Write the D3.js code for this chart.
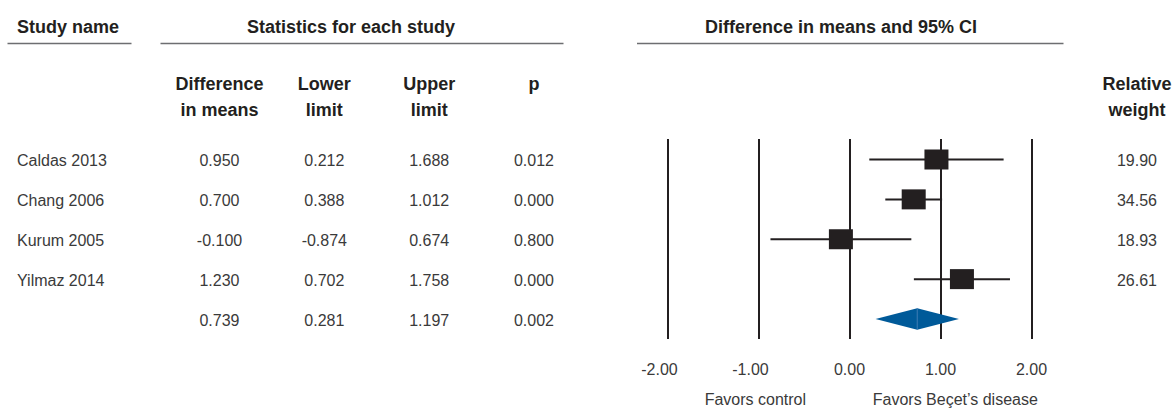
<!DOCTYPE html>
<html>
<head>
<meta charset="utf-8">
<script src="https://cdn.jsdelivr.net/npm/d3@7"></script>
<style>
  html, body { margin: 0; padding: 0; background: #fff; overflow: hidden; }
  svg { display: block; }
  .hdr { font-family: "Liberation Sans", Arial, sans-serif; font-weight: bold; font-size: 18px; fill: #231f20; }
  .cell { font-family: "Liberation Sans", Arial, sans-serif; font-size: 16px; fill: #3a3a3a; }
</style>
</head>
<body>
<div id="chart"></div>
<script>
const studies = ['Caldas 2013', 'Chang 2006', 'Kurum 2005', 'Yilmaz 2014'];
const diffMeans = [0.950, 0.700, -0.100, 1.230];
const lowerLimits = [0.212, 0.388, -0.874, 0.702];
const upperLimits = [1.688, 1.012, 0.674, 1.758];
const pValues = [0.012, 0.000, 0.800, 0.000];
const weights = [19.90, 34.56, 18.93, 26.61];

// pooled estimate (last row)
const pooledDiff = 0.739;
const pooledLower = 0.281;
const pooledUpper = 1.197;
const pooledP = 0.002;

const axisTicks = [-2, -1, 0, 1, 2];
const colHeaders = [['Difference', 'in means'], ['Lower', 'limit'], ['Upper', 'limit'], ['p']];

const width = 1173;
const height = 410;

const svg = d3.select('#chart')
  .append('svg')
  .attr('width', width)
  .attr('height', height)
  .attr('viewBox', `0 0 ${width} ${height}`);

const x = d3.scaleLinear().domain([-2, 2]).range([668, 1032]);

const rowKeys = studies.concat(['pooled']);
const y = d3.scalePoint().domain(rowKeys).range([159.5, 319]);

// table columns (centres)
const colX = d3.scalePoint().domain(d3.range(4)).range([219.5, 534]);

const rows = studies.map((s, i) => ({
  name: s,
  diff: diffMeans[i],
  lo: lowerLimits[i],
  hi: upperLimits[i],
  p: pValues[i],
  w: weights[i]
}));
const pooled = { name: 'pooled', diff: pooledDiff, lo: pooledLower, hi: pooledUpper, p: pooledP };

// ---- group headers with underlines
const groups = [
  { label: 'Study name', tx: 17, anchor: 'start', x1: 7.5, x2: 131.5 },
  { label: 'Statistics for each study', tx: 351, anchor: 'middle', x1: 160.5, x2: 563.5 },
  { label: 'Difference in means and 95% CI', tx: 841, anchor: 'middle', x1: 637, x2: 1063.5 }
];

svg.append('g')
  .selectAll('text')
  .data(groups)
  .join('text')
  .attr('class', 'hdr')
  .attr('x', d => d.tx)
  .attr('y', 33)
  .attr('text-anchor', d => d.anchor)
  .text(d => d.label);

svg.append('g')
  .attr('stroke', '#6d6e71')
  .attr('stroke-width', 1.4)
  .selectAll('line')
  .data(groups)
  .join('line')
  .attr('x1', d => d.x1)
  .attr('x2', d => d.x2)
  .attr('y1', 43.5)
  .attr('y2', 43.5);

// ---- column headers
const colHdr = svg.append('g')
  .selectAll('text')
  .data(colHeaders)
  .join('text')
  .attr('class', 'hdr')
  .attr('text-anchor', 'middle')
  .attr('x', (_d, i) => colX(i))
  .attr('y', 90);

colHdr.selectAll('tspan')
  .data(d => d)
  .join('tspan')
  .attr('x', function () { return d3.select(this.parentNode).attr('x'); })
  .attr('dy', (_d, i) => i === 0 ? 0 : 26)
  .text(d => d);

svg.append('text')
  .attr('class', 'hdr')
  .attr('text-anchor', 'middle')
  .attr('x', 1137)
  .attr('y', 90)
  .selectAll('tspan')
  .data(['Relative', 'weight'])
  .join('tspan')
  .attr('x', 1137)
  .attr('dy', (_d, i) => i === 0 ? 0 : 26)
  .text(d => d);

// ---- table cells
const allRows = rows.concat([pooled]);
const fmt3 = d => d.toFixed(3);

const rowG = svg.append('g')
  .selectAll('g')
  .data(allRows)
  .join('g')
  .attr('transform', d => `translate(0,${y(d.name) + 6.5})`);

rowG.filter(d => d.name !== 'pooled')
  .append('text')
  .attr('class', 'cell')
  .attr('x', 17)
  .text(d => d.name);

rowG.each(function (d) {
  const vals = [d.diff, d.lo, d.hi, d.p];
  d3.select(this).selectAll('text.num')
    .data(vals)
    .join('text')
    .attr('class', 'cell num')
    .attr('text-anchor', 'middle')
    .attr('x', (_v, i) => colX(i))
    .text(fmt3);
});

rowG.filter(d => d.w !== undefined)
  .append('text')
  .attr('class', 'cell')
  .attr('text-anchor', 'end')
  .attr('x', 1157)
  .text(d => d.w.toFixed(2));

// ---- forest plot
svg.append('g')
  .attr('stroke', '#231f20')
  .attr('stroke-width', 2)
  .selectAll('line')
  .data(axisTicks)
  .join('line')
  .attr('x1', d => x(d))
  .attr('x2', d => x(d))
  .attr('y1', 139)
  .attr('y2', 339);

svg.append('g')
  .attr('stroke', '#231f20')
  .attr('stroke-width', 2)
  .selectAll('line')
  .data(rows)
  .join('line')
  .attr('x1', d => x(d.lo))
  .attr('x2', d => x(d.hi))
  .attr('y1', d => y(d.name))
  .attr('y2', d => y(d.name));

const boxW = 24, boxH = 20;
svg.append('g')
  .selectAll('rect')
  .data(rows)
  .join('rect')
  .attr('x', d => x(d.diff) - boxW / 2)
  .attr('y', d => y(d.name) - boxH / 2)
  .attr('width', boxW)
  .attr('height', boxH)
  .attr('fill', '#231f20');

const dy = y('pooled');
const dh = 10.8;
svg.append('path')
  .attr('d', `M${x(pooled.lo)},${dy}L${x(pooled.diff)},${dy - dh}L${x(pooled.hi)},${dy}L${x(pooled.diff)},${dy + dh}Z`)
  .attr('fill', '#005a99');

svg.append('line')
  .attr('x1', x(pooled.diff))
  .attr('x2', x(pooled.diff))
  .attr('y1', dy - dh)
  .attr('y2', dy + dh)
  .attr('stroke', '#4f86bd')
  .attr('stroke-width', 0.8);

// ---- axis labels
const axis = d3.axisBottom(x)
  .tickValues(axisTicks)
  .tickSize(0)
  .tickPadding(0)
  .tickFormat(d => d.toFixed(2));

const axisG = svg.append('g')
  .attr('transform', 'translate(0,362)')
  .call(axis);

axisG.select('.domain').remove();
axisG.selectAll('text')
  .attr('class', 'cell')
  .attr('dy', 0)
  .attr('y', 12.5)
  .attr('dx', d => d < 0 ? -9 : -1)
  .style('font-family', '"Liberation Sans", Arial, sans-serif')
  .style('font-size', '16px')
  .attr('fill', '#3a3a3a');

svg.append('text')
  .attr('class', 'cell')
  .attr('text-anchor', 'middle')
  .attr('x', x(-1.04))
  .attr('y', 405)
  .text('Favors control');

svg.append('text')
  .attr('class', 'cell')
  .attr('text-anchor', 'start')
  .attr('x', x(0.25))
  .attr('y', 405)
  .text('Favors Beçet’s disease');
</script>
</body>
</html>
